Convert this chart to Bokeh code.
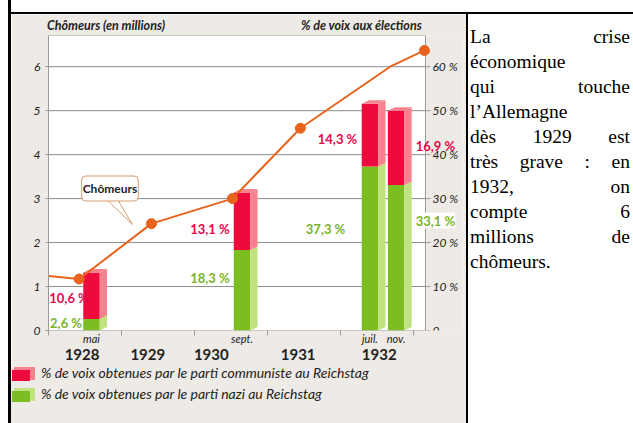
from bokeh.plotting import figure
from bokeh.models import (Range1d, LinearAxis, FixedTicker, Label, Div)
from bokeh.layouts import row, column
from bokeh.embed import file_html
from bokeh.resources import INLINE
from bokeh.core.properties import value

# ---------------- data ----------------
# unemployment (millions), x = decimal year
unemp_x = [1928.0, 1928.42, 1929.41, 1930.52, 1931.45, 1932.68, 1933.15]
unemp_y = [1.24, 1.17, 2.43, 3.00, 4.60, 6.00, 6.37]
unemp_marked = [False, True, True, True, True, False, True]

# Reichstag elections
election_x = [1928.589, 1930.651, 1932.404, 1932.762]
election_month = ["mai", "sept.", "juil.", "nov."]
nazi_pct = [2.6, 18.3, 37.3, 33.1]
kpd_pct = [10.6, 13.1, 14.3, 16.9]
nazi_text = ["2,6 %", "18,3 %", "37,3 %", "33,1 %"]
kpd_text = ["10,6 %", "13,1 %", "14,3 %", "16,9 %"]

years = [1928, 1929, 1930, 1931, 1932]
year_label_x = [1928.46, 1929.36, 1930.23, 1931.42, 1932.53]
year_bounds = [1928, 1929, 1930, 1931, 1932, 1933]

left_ticks = [0, 1, 2, 3, 4, 5, 6]
right_ticks = [0, 10, 20, 30, 40, 50, 60]
right_tick_text = ["0", "10 %", "20 %", "30 %", "40 %", "50 %", "60 %"]

header_left = "Chômeurs (en millions)"
header_right = "% de voix aux élections"
legend_kpd = "% de voix obtenues par le parti communiste au Reichstag"
legend_nazi = "% de voix obtenues par le parti nazi au Reichstag"

text_lines = ["La crise", "économique", "qui touche", "l’Allemagne", "dès 1929 est",
              "très grave : en", "1932, on", "compte 6", "millions de", "chômeurs."]

# ---------------- styles ----------------
FONT = "Lato"
BEIGE = "#EEEAE5"
RED = "#EF0A3E"
RED_LIGHT = "#F5828D"
GREEN = "#7CBD1F"
GREEN_LIGHT = "#C0E280"
RED_TXT = "#E3064A"
GREEN_TXT = "#7AB52A"
ORANGE = "#E8631C"
AXIS_GRAY = "#9a9a9a"
GRID_GRAY = "#8c8c8c"
TXT = "#222222"

PX_PER_YEAR = 73.0
X0, X_END = 1928.0, 1933.164        # white plotting area (left axis .. right axis)
Y_TOP = 6.71                          # top of white area (millions)
PCT_TOP = 67.1
BAR_W = 0.226
DX = 0.10
DY = 0.8  # in % units

TOTAL_W, TOTAL_H = 633, 423
PAD_L = 8          # white strip on the far left
BORDER_L = 3       # black border of the chart cell
TOP_H = 14         # white strip + black top rule
FIG_W, FIG_H = 455, 352
LEG_H = TOTAL_H - TOP_H - FIG_H
TEXT_W = TOTAL_W - PAD_L - BORDER_L - FIG_W

p = figure(width=FIG_W, height=FIG_H,
           x_range=Range1d(X0, X0 + 415 / PX_PER_YEAR), y_range=Range1d(0, Y_TOP),
           output_backend="svg", toolbar_location=None,
           x_axis_location=None, y_axis_location=None,
           min_border_left=37, min_border_right=3, min_border_top=18, min_border_bottom=36,
           background_fill_color=BEIGE, border_fill_color=BEIGE, outline_line_color=None)
p.extra_y_ranges = {"pct": Range1d(0, PCT_TOP)}

# white plotting area with its thin grey border
p.quad(left=[X0], right=[X_END], bottom=[0], top=[Y_TOP], fill_color="white",
       line_color=AXIS_GRAY, line_width=1)
# horizontal grid lines (only across the white area)
p.segment(x0=[X0] * 6, x1=[X_END] * 6, y0=left_ticks[1:], y1=left_ticks[1:],
          line_color=GRID_GRAY, line_width=1)

# left axis (millions)
lax = LinearAxis(ticker=FixedTicker(ticks=left_ticks), axis_line_color=AXIS_GRAY,
                 major_tick_line_color=AXIS_GRAY, major_tick_out=3, major_tick_in=0,
                 minor_tick_line_color=None, major_label_standoff=5,
                 major_label_text_font=FONT, major_label_text_font_style="italic",
                 major_label_text_font_size="12px", major_label_text_color=TXT)
p.add_layout(lax, "left")

# right axis (% of votes) drawn at the right edge of the white area
p.segment(x0=[X_END] * 7, x1=[X_END + 5 / PX_PER_YEAR] * 7, y0=right_ticks, y1=right_ticks,
          y_range_name="pct", line_color=AXIS_GRAY, line_width=1)
p.text(x=[X_END + 7 / PX_PER_YEAR] * 7, y=right_ticks, text=right_tick_text, y_range_name="pct",
       text_align="left", text_baseline="middle", text_font=value(FONT),
       text_font_style="italic", text_font_size="12px", text_color=TXT)

# headers (as a top axis with two labels)
hax = LinearAxis(ticker=FixedTicker(ticks=[1928.788, 1932.288]),
                 major_label_overrides={1928.788: header_left, 1932.288: header_right},
                 axis_line_color=None, major_tick_line_color=None, major_tick_out=0,
                 major_tick_in=0, minor_tick_line_color=None, major_label_standoff=3,
                 major_label_text_font=FONT, major_label_text_font_style="bold italic",
                 major_label_text_font_size="12.5px", major_label_text_color=TXT)
p.add_layout(hax, "above")

# month labels + year boundary ticks
bax = LinearAxis(ticker=FixedTicker(ticks=election_x, minor_ticks=year_bounds),
                 major_label_overrides={x: m for x, m in zip(election_x, election_month)},
                 axis_line_color=None, major_tick_line_color=None, major_tick_out=0,
                 major_tick_in=0, minor_tick_line_color=AXIS_GRAY, minor_tick_out=5,
                 minor_tick_in=0, major_label_standoff=-4, major_label_text_font=FONT,
                 major_label_text_font_style="italic", major_label_text_font_size="11px",
                 major_label_text_color=TXT)
p.add_layout(bax, "below")

# year labels
yax = LinearAxis(ticker=FixedTicker(ticks=year_label_x),
                 major_label_overrides={x: str(y) for x, y in zip(year_label_x, years)},
                 axis_line_color=None, major_tick_line_color=None, major_tick_out=0,
                 major_tick_in=0, minor_tick_line_color=None, major_label_standoff=1,
                 major_label_text_font=FONT, major_label_text_font_style="bold",
                 major_label_text_font_size="15px", major_label_text_color=TXT)
p.add_layout(yax, "below")

# bars (3D-like)
x0 = [x - BAR_W / 2 for x in election_x]
x1 = [x + BAR_W / 2 for x in election_x]
tot = [n + k for n, k in zip(nazi_pct, kpd_pct)]

p.quad(left=x0, right=x1, bottom=[0] * 4, top=nazi_pct, y_range_name="pct",
       fill_color=GREEN, line_color=None)
p.quad(left=x0, right=x1, bottom=nazi_pct, top=tot, y_range_name="pct",
       fill_color=RED, line_color=None)
p.patches(xs=[[a, a + DX, a + DX, a] for a in x1],
          ys=[[0, DY, n + DY, n] for n in nazi_pct], y_range_name="pct",
          fill_color=GREEN_LIGHT, line_color=None)
p.patches(xs=[[a, a + DX, a + DX, a] for a in x1],
          ys=[[n, n + DY, t + DY, t] for n, t in zip(nazi_pct, tot)], y_range_name="pct",
          fill_color=RED_LIGHT, line_color=None)
p.patches(xs=[[a, a + DX, b + DX, b] for a, b in zip(x0, x1)],
          ys=[[t, t + DY, t + DY, t] for t in tot], y_range_name="pct",
          fill_color=RED_LIGHT, line_color=None)

# callout pointer
p.patch(x=[1928.75, 1929.15, 1928.92], y=[3.06, 2.41, 3.06], fill_color="white",
        line_color="#D99A6C", line_width=1)

# unemployment line
p.line(unemp_x, unemp_y, line_color=ORANGE, line_width=2)
mx = [x for x, m in zip(unemp_x, unemp_marked) if m]
my = [y for y, m in zip(unemp_y, unemp_marked) if m]
p.scatter(mx, my, size=10, fill_color=ORANGE, line_color=ORANGE)

callout_kw = dict(x=1928.842, y=3.23, text="Chômeurs", text_align="center",
                  text_baseline="middle", text_font=FONT, text_font_style="bold",
                  text_font_size="12px", text_color=TXT, background_fill_color="white",
                  border_line_color="#D99A6C", border_line_width=1, border_radius=4)
try:
    callout = Label(padding=(1, 5), **callout_kw)
except Exception:
    callout = Label(padding=2, **callout_kw)
p.add_layout(callout)

# value labels
kpd_lab_pos = [(1928.281, 7.4), (1930.212, 23.2), (1931.959, 43.5), (1933.301, 41.9)]
nazi_lab_pos = [(1928.24, 1.8), (1930.212, 11.9), (1931.795, 23.0), (1933.301, 25.0)]
for (lx, ly), t in zip(kpd_lab_pos, kpd_text):
    p.add_layout(Label(x=lx, y=ly, y_range_name="pct", text=t, text_align="center",
                       text_baseline="middle", text_font=FONT, text_font_style="bold",
                       text_font_size="13px", text_color=RED_TXT))
for i, ((lx, ly), t) in enumerate(zip(nazi_lab_pos, nazi_text)):
    p.add_layout(Label(x=lx, y=ly, y_range_name="pct", text=t, text_align="center",
                       text_baseline="middle", text_font=FONT, text_font_style="bold",
                       text_font_size="13px", text_color=GREEN_TXT,
                       background_fill_color="white" if i == 3 else None))

# ---------------- legend (below the chart, same beige cell) ----------------
def swatch(top, front, light):
    return (f'<div style="position:absolute;left:1px;top:{top}px;width:23px;height:14px">'
            f'<div style="position:absolute;left:0;top:3px;width:18px;height:11px;background:{front}"></div>'
            f'<div style="position:absolute;left:18px;top:1px;width:5px;height:12px;background:{light}"></div>'
            f'<div style="position:absolute;left:2px;top:0;width:21px;height:3px;background:{light}"></div>'
            '</div>')

def legend_text(top, txt):
    return (f'<div style="position:absolute;left:30px;top:{top}px;line-height:14px;white-space:nowrap;'
            f'font-family:Lato;font-style:italic;font-size:14px;color:{TXT}">{txt}</div>')

legend_div = Div(width=FIG_W, height=LEG_H, margin=0,
                 text=f'<div style="position:relative;width:{FIG_W}px;height:{LEG_H}px;background:{BEIGE}">'
                      + swatch(1, RED, RED_LIGHT) + legend_text(0, legend_kpd)
                      + swatch(22, GREEN, GREEN_LIGHT) + legend_text(21, legend_nazi)
                      + '</div>')

# ---------------- cell borders and the text cell ----------------
pad_div = Div(width=PAD_L, height=TOTAL_H, margin=0, text="")
left_border = Div(width=BORDER_L, height=TOTAL_H, margin=0,
                  text=f'<div style="width:{BORDER_L}px;height:{TOTAL_H}px;background:black"></div>')
top_div = Div(width=FIG_W, height=TOP_H, margin=0,
              text=f'<div style="position:relative;width:{FIG_W}px;height:{TOP_H}px">'
                   f'<div style="position:absolute;left:0;top:{TOP_H - 2}px;width:{FIG_W}px;height:2px;background:black"></div>'
                   '</div>')

line_html = []
for i, ln in enumerate(text_lines):
    last = "left" if i == len(text_lines) - 1 else "justify"
    line_html.append(f'<div style="text-align:justify;text-align-last:{last};white-space:nowrap">{ln}</div>')
text_div = Div(width=TEXT_W, height=TOTAL_H, margin=0,
               text=f'<div style="position:relative;width:{TEXT_W}px;height:{TOTAL_H}px">'
                    f'<div style="position:absolute;left:0;top:{TOP_H - 2}px;width:{TEXT_W}px;height:2px;background:black"></div>'
                    f'<div style="position:absolute;left:0;top:{TOP_H - 2}px;width:2px;height:{TOTAL_H - TOP_H + 2}px;background:black"></div>'
                    '<div style="position:absolute;left:4px;top:24px;width:160px;'
                    'font-family:\'Liberation Serif\',serif;font-size:19.5px;line-height:25px;color:#000">'
                    + "".join(line_html) + '</div></div>')

layout = row(pad_div, left_border, column(top_div, p, legend_div, spacing=0), text_div, spacing=0)

open("out.html", "w").write(file_html(layout, INLINE))
